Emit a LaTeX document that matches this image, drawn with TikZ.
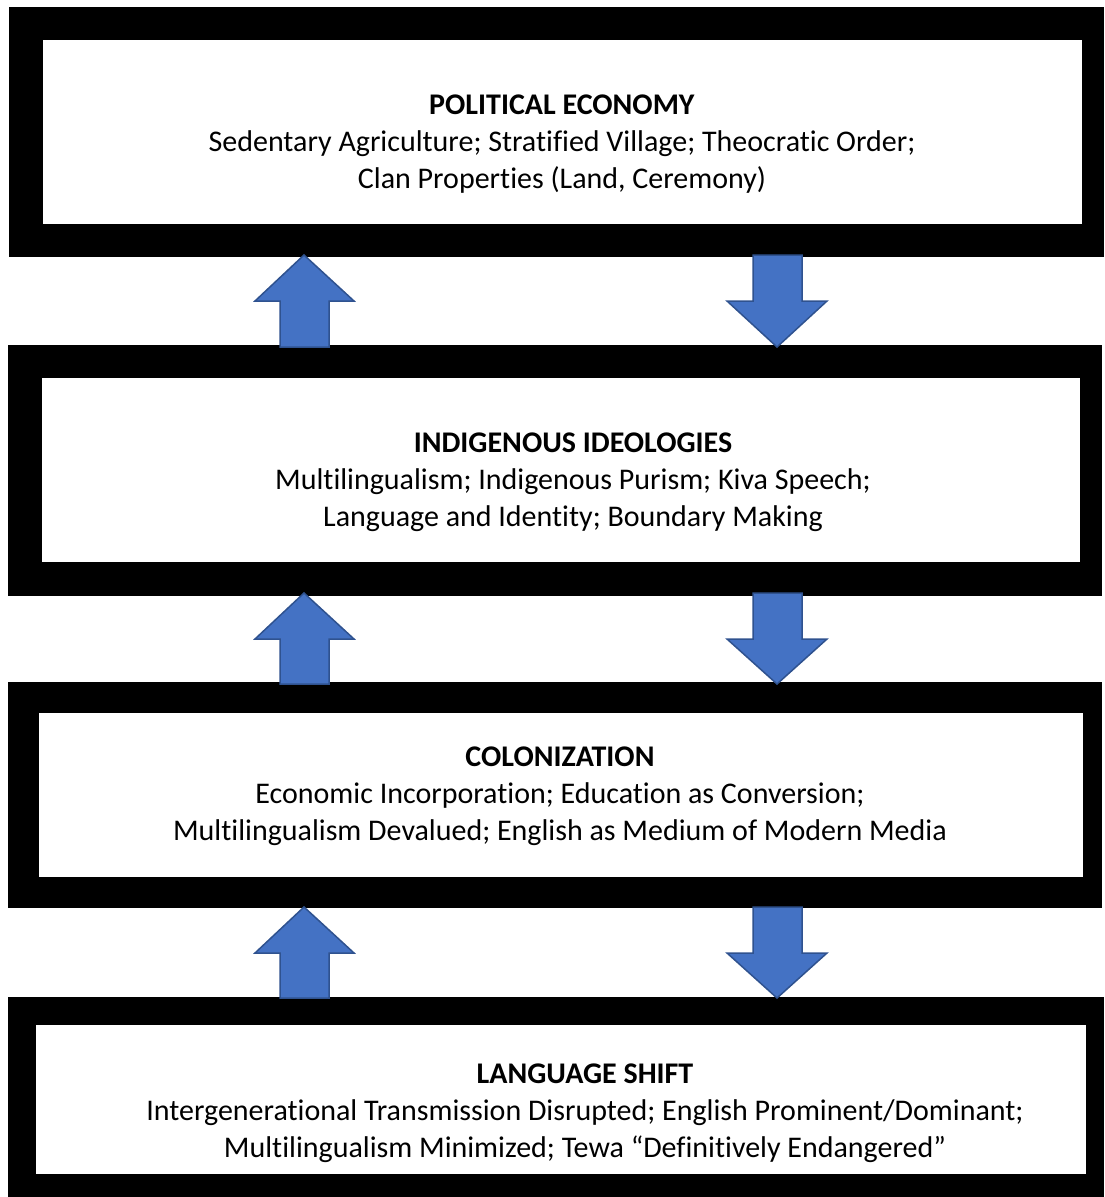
\documentclass[tikz,border=0pt]{standalone}
\usepackage{fontspec}
\setmainfont{Carlito}[Ligatures={NoCommon}]
\definecolor{arrowblue}{HTML}{4472C4}
\definecolor{arrowedge}{HTML}{2F528F}
\begin{document}
\begin{tikzpicture}[x=1pt,y=-1pt,
  frame/.style={fill=black},
  innerbox/.style={fill=white},
  txt/.style={align=center, inner sep=0pt, font=\fontsize{30}{37}\selectfont},
  blockarrow/.style={fill=arrowblue, draw=arrowedge, line width=1.5pt, line join=miter}]
\useasboundingbox (0,0) rectangle (1104,1197);
% frames
\fill[frame] (9,7) rectangle (1104,257);
\fill[innerbox] (43,40) rectangle (1082,224);
\fill[frame] (8,345) rectangle (1102,596);
\fill[innerbox] (42,378) rectangle (1080,562);
\fill[frame] (8,682) rectangle (1102,908);
\fill[innerbox] (39,713) rectangle (1083,877);
\fill[frame] (8,997) rectangle (1104,1197);
\fill[innerbox] (36,1025) rectangle (1086,1174);
% texts
\node[txt] (pe) at (562,144) {\textbf{POLITICAL ECONOMY}\\Sedentary Agriculture; Stratified Village; Theocratic Order;\\Clan Properties (Land, Ceremony)};
\node[txt] (ii) at (573,482) {\textbf{INDIGENOUS IDEOLOGIES}\\Multilingualism; Indigenous Purism; Kiva Speech;\\Language and Identity; Boundary Making};
\node[txt] (co) at (560,796) {\textbf{COLONIZATION}\\Economic Incorporation; Education as Conversion;\\Multilingualism Devalued; English as Medium of Modern Media};
\node[txt] (ls) at (585,1113) {\textbf{LANGUAGE SHIFT}\\Intergenerational Transmission Disrupted; English Prominent/Dominant;\\Multilingualism Minimized; Tewa “Definitively Endangered”};
% arrows
\foreach \t/\b in {255/347, 593/684, 907/998}{
  \pgfmathsetmacro{\h}{\t+46}
  \draw[blockarrow] (304,\t) -- (354,\h) -- (329,\h) -- (329,\b) -- (280,\b) -- (280,\h) -- (255,\h) -- cycle;
  \draw[blockarrow] (753,\t) -- (802,\t) -- (802,\h) -- (827,\h) -- (777,\b) -- (727,\h) -- (753,\h) -- cycle;
}
\end{tikzpicture}
\end{document}
